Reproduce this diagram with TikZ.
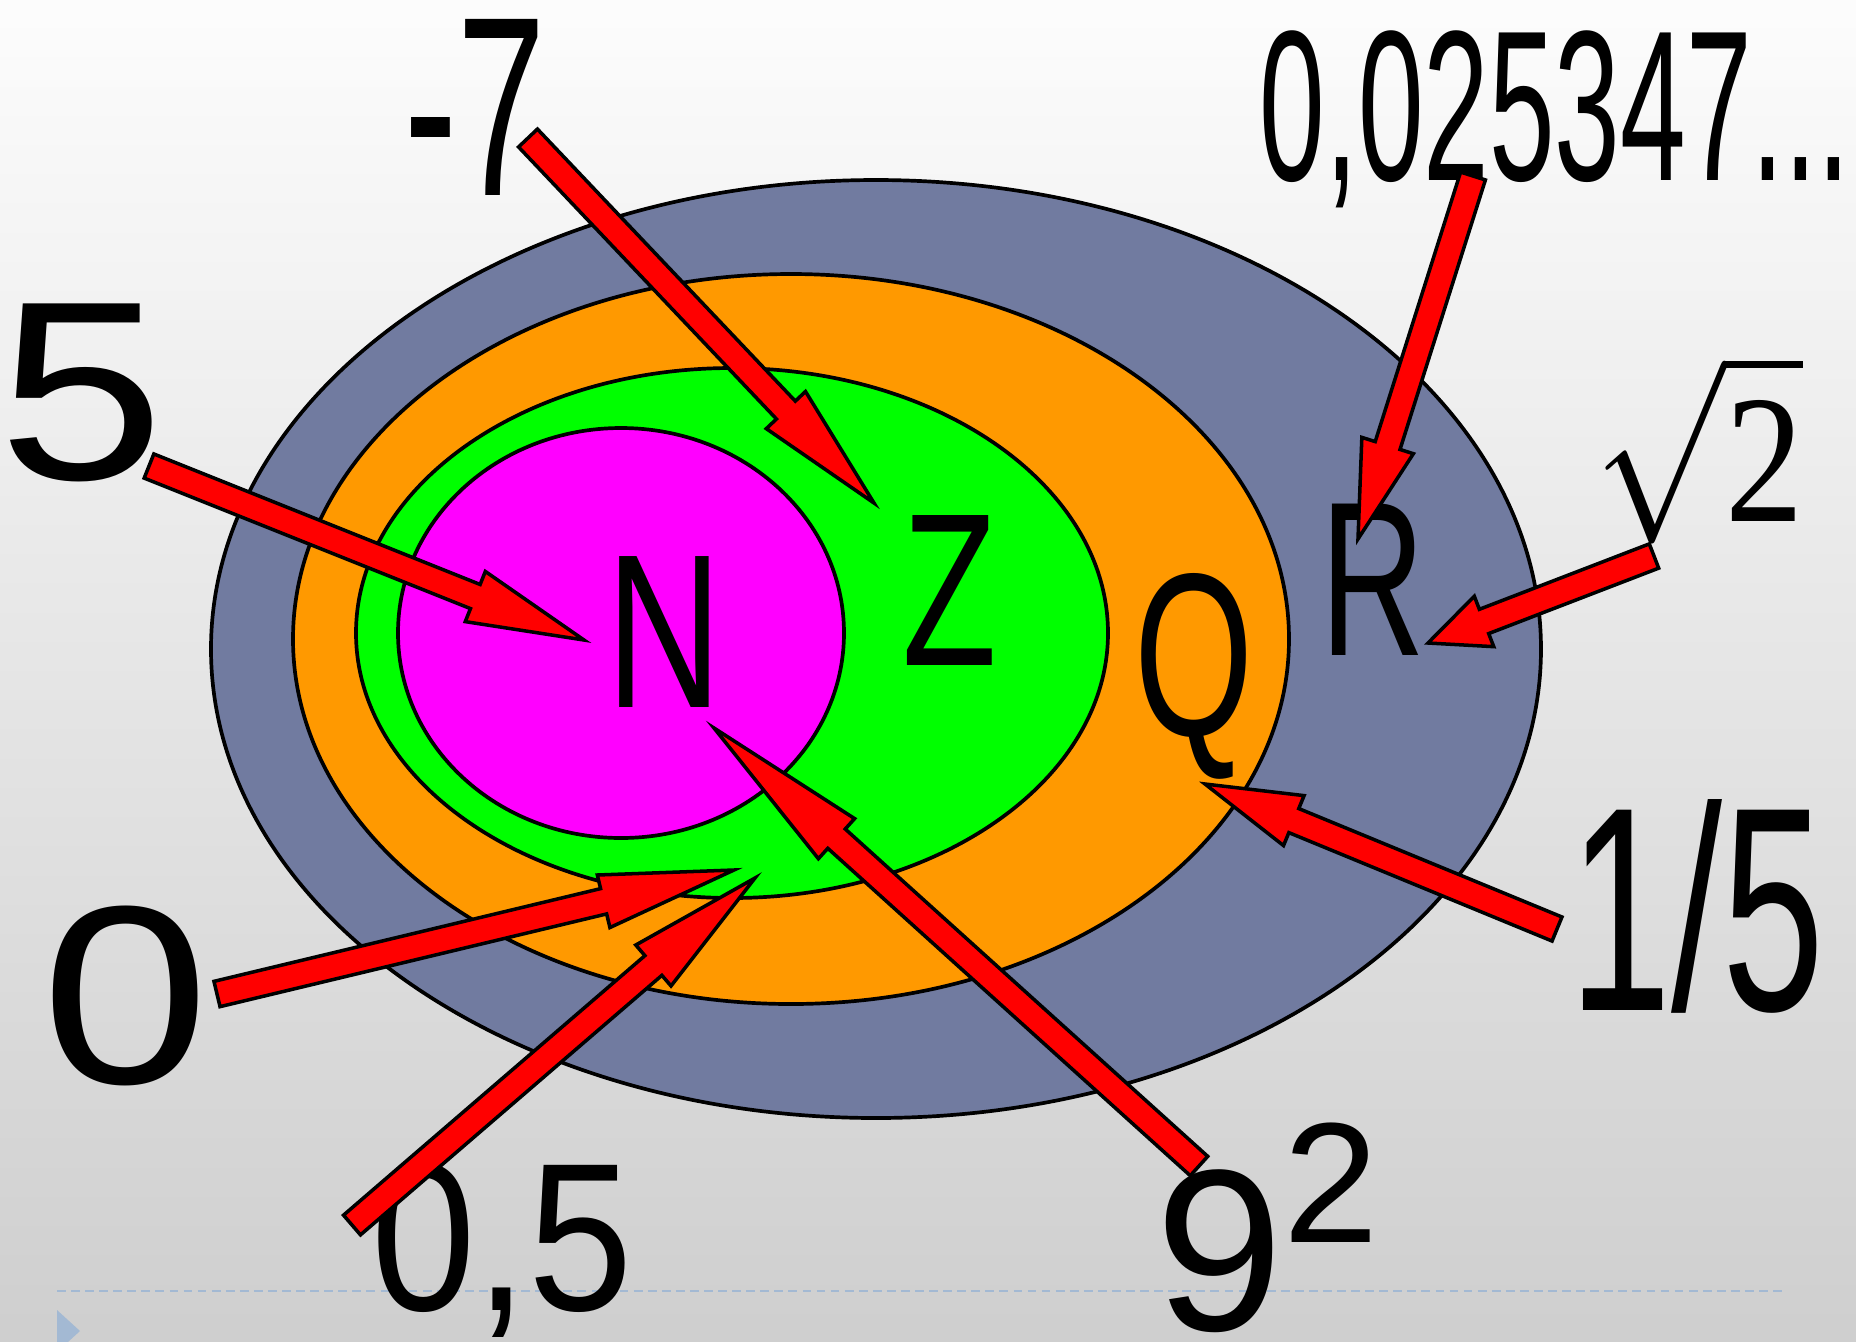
\documentclass[tikz,border=0pt]{standalone}
\usepackage{fontspec}
\setmainfont{Liberation Sans}
\newfontfamily\seriffont{Liberation Serif}
\usetikzlibrary{calc}

\definecolor{setR}{RGB}{113,123,160}
\definecolor{setQ}{RGB}{255,153,0}
\definecolor{setZ}{RGB}{0,255,0}
\definecolor{setN}{RGB}{255,0,255}
\definecolor{slideblue}{RGB}{163,185,211}

% block arrow from #1 (tail) to #2 (tip), head length #3
\newcommand\blockarrow[3]{%
  \draw[blockarrow]
    ($(#1)!0.13cm!90:(#2)$) -- ($(#2)!#3!(#1)!0.13cm!-90:(#1)$)
    -- ($(#2)!#3!(#1)!0.27cm!-90:(#1)$) -- (#2)
    -- ($(#2)!#3!(#1)!0.27cm!90:(#1)$) -- ($(#2)!#3!(#1)!0.13cm!90:(#1)$)
    -- ($(#1)!0.13cm!-90:(#2)$) -- cycle;}
\newcommand\lblsize[1]{\fontsize{#1}{#1}\selectfont}

\begin{document}
\begin{tikzpicture}[x=0.01cm,y=-0.01cm,
  setline/.style={draw=black,line width=1.05pt},
  blockarrow/.style={fill=red,draw=black,line width=1pt,line join=miter},
  lbl/.style={inner sep=0pt,anchor=base,transform shape}]
  \clip (0,0) rectangle (1856,1341);
  \shade[top color=black!1,bottom color=black!19] (0,0) rectangle (1856,1341);

  \draw[slideblue,line width=0.6pt,dash pattern=on 2.5pt off 1.5pt] (57,1291) -- (1785,1291);
  \fill[slideblue] (57,1310) -- (80,1331) -- (57,1352) -- cycle;

  \filldraw[setline,fill=setR] (876,649) ellipse (665 and 469);
  \filldraw[setline,fill=setQ] (791,639) ellipse (498 and 365);
  \filldraw[setline,fill=setZ] (732,633) ellipse (376 and 265);
  \filldraw[setline,fill=setN] (621,633) ellipse (223 and 205);

  \node[lbl,font=\lblsize{62.4pt},xscale=0.73] (setNlbl) at (664,707) {N};
  \node[lbl,font=\lblsize{62pt},xscale=0.71] (setZlbl) at (950,665) {Z};
  \node[lbl,font=\lblsize{66pt},xscale=0.66] (setQlbl) at (1194,735) {Q};
  \node[lbl,font=\lblsize{62.6pt},xscale=0.66] (setRlbl) at (1373,655) {R};

  \node[lbl,font=\lblsize{72.8pt},xscale=0.62] (minusseven) at (475,195) {-7};
  \node[lbl,font=\lblsize{72.6pt},xscale=1.17] (five) at (82,479) {5};
  \node[lbl,font=\lblsize{72.3pt},xscale=1.19] (zero) at (126,1083) {0};
  \node[lbl,font=\lblsize{60pt},xscale=0.89] (half) at (502,1310) {0,5};
  \node[lbl,anchor=base west,font=\lblsize{65.5pt}] (ninesq) at (1155,1330)
    {9\raisebox{24.8pt}{\lblsize{48.7pt}2}};
  \node[lbl,font=\lblsize{82.8pt},xscale=0.63] (onefifth) at (1697,1010) {1/5};
  \node[lbl] (sqrttwo) at (1699,521) {\scalebox{4.45}[5.2]{$\sqrt{\hbox{\seriffont 2}}$}};
  \node[lbl,font=\lblsize{61pt},xscale=0.55] (decimal) at (1555,180) {0,025347...};

  \coordinate (minussevenT) at (528,138);  \coordinate (minussevenH) at (874,503);
  \coordinate (fiveT) at (149,466);        \coordinate (fiveH) at (584,640);
  \coordinate (zeroT) at (217,994);        \coordinate (zeroH) at (734,870);
  \coordinate (halfT) at (352,1225);       \coordinate (halfH) at (755,878);
  \coordinate (ninesqT) at (1199,1166);    \coordinate (ninesqH) at (714,728);
  \coordinate (onefifthT) at (1557,929);   \coordinate (onefifthH) at (1205,784);
  \coordinate (sqrttwoT) at (1654,556);    \coordinate (sqrttwoH) at (1428,643);
  \coordinate (decimalT) at (1473,176);    \coordinate (decimalH) at (1358,539);

  \blockarrow{minussevenT}{minussevenH}{1.28cm}
  \blockarrow{fiveT}{fiveH}{1.17cm}
  \blockarrow{halfT}{halfH}{1.34cm}
  \blockarrow{zeroT}{zeroH}{1.34cm}
  \blockarrow{ninesqT}{ninesqH}{1.65cm}
  \blockarrow{onefifthT}{onefifthH}{0.96cm}
  \blockarrow{sqrttwoT}{sqrttwoH}{0.60cm}
  \blockarrow{decimalT}{decimalH}{0.98cm}
\end{tikzpicture}
\end{document}
